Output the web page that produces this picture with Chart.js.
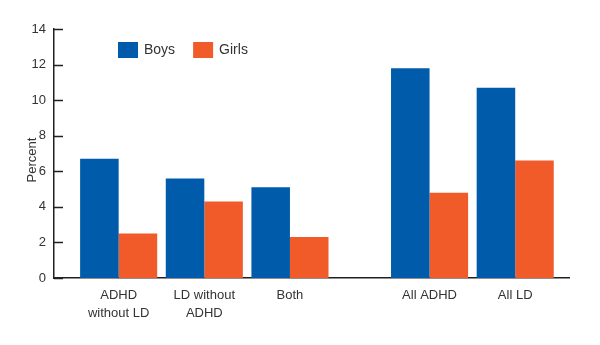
<!DOCTYPE html>
<html>
<head>
<meta charset="utf-8">
<script src="https://cdn.jsdelivr.net/npm/chart.js@4"></script>
<style>
  html, body { margin: 0; padding: 0; background: #fff; }
  #wrap { width: 600px; height: 345px; }
</style>
</head>
<body>
<div id="wrap"><canvas id="chart" width="600" height="345"></canvas></div>
<script>
var categories = [["ADHD", "without LD"], ["LD without", "ADHD"], "Both", "All ADHD", "All LD"];
// group positions along x (a wider gap before the two "All" groups)
var positions = [0, 1, 2, 3.63, 4.63];
var boys = [6.7, 5.6, 5.1, 11.8, 10.7];
var girls = [2.5, 4.3, 2.3, 4.8, 6.6];
var yTicks = [0, 2, 4, 6, 8, 10, 12, 14];

var BLUE = "#005baa";
var ORANGE = "#f15a29";
var INK = "#231f20";
var TEXT = "#333333";
var FONT = "'Liberation Sans', Arial, Helvetica, sans-serif";

var toPoints = function (vals) {
	return vals.map((v, i) => ({ x: positions[i], y: v }));
};

// small tick marks drawn inward from the y axis, plus the rotated title
var axisExtras = {
	id: "axisExtras",
	afterDraw(chart) {
		var ctx = chart.ctx;
		var y = chart.scales.y;
		var left = chart.chartArea.left;
		ctx.save();
		ctx.strokeStyle = INK;
		ctx.lineWidth = 1.5;
		yTicks.forEach((t) => {
			var py = Math.round(y.getPixelForValue(t)) + 0.5;
			ctx.beginPath();
			ctx.moveTo(left, py);
			ctx.lineTo(left + 9, py);
			ctx.stroke();
		});
		ctx.fillStyle = TEXT;
		ctx.font = "13px " + FONT;
		ctx.textAlign = "center";
		ctx.textBaseline = "middle";
		ctx.translate(32, 160);
		ctx.rotate(-Math.PI / 2);
		ctx.fillText("Percent", 0, 0);
		ctx.restore();
	},
};

// legend inside the plot area
var innerLegend = {
	id: "innerLegend",
	afterDraw(chart) {
		var ctx = chart.ctx;
		var x = chart.chartArea.left + 64;
		var top = chart.chartArea.top + 13;
		ctx.save();
		ctx.font = "14px " + FONT;
		ctx.textBaseline = "middle";
		chart.data.datasets.forEach((ds) => {
			ctx.fillStyle = ds.backgroundColor;
			ctx.fillRect(x, top, 20, 16);
			ctx.fillStyle = TEXT;
			ctx.fillText(ds.label, x + 26, top + 8);
			x += 26 + ctx.measureText(ds.label).width + 18;
		});
		ctx.restore();
	},
};

new Chart(document.getElementById("chart").getContext("2d"), {
	type: "bar",
	data: {
		datasets: [
			{ label: "Boys", data: toPoints(boys), backgroundColor: BLUE },
			{ label: "Girls", data: toPoints(girls), backgroundColor: ORANGE },
		],
	},
	options: {
		responsive: false,
		animation: false,
		datasets: { bar: { categoryPercentage: 0.9, barPercentage: 1.0 } },
		layout: { padding: { left: 0, right: 31, top: 29, bottom: 0 } },
		plugins: { legend: { display: false }, tooltip: { enabled: false } },
		scales: {
			x: {
				type: "linear",
				offset: false,
				min: -0.755,
				max: 5.258,
				afterBuildTicks: (axis) => {
					axis.ticks = positions.map((p) => ({ value: p }));
				},
				afterFit: (axis) => {
					axis.height = 67;
				},
				grid: { display: false, drawTicks: false, offset: false },
				border: { display: true, color: INK, width: 1.5 },
				ticks: {
					autoSkip: false,
					maxRotation: 0,
					padding: 9,
					color: TEXT,
					font: { family: FONT, size: 13, lineHeight: 1.35 },
					callback: (v) => {
						var i = positions.indexOf(v);
						return i >= 0 ? categories[i] : "";
					},
				},
			},
			y: {
				min: 0,
				max: 14,
				afterFit: (axis) => {
					axis.width = 54;
				},
				grid: { display: false, drawTicks: false },
				border: { display: true, color: INK, width: 1.5 },
				ticks: {
					stepSize: 2,
					padding: 8,
					color: TEXT,
					font: { family: FONT, size: 13 },
				},
			},
		},
	},
	plugins: [axisExtras, innerLegend],
});
</script>
</body>
</html>
